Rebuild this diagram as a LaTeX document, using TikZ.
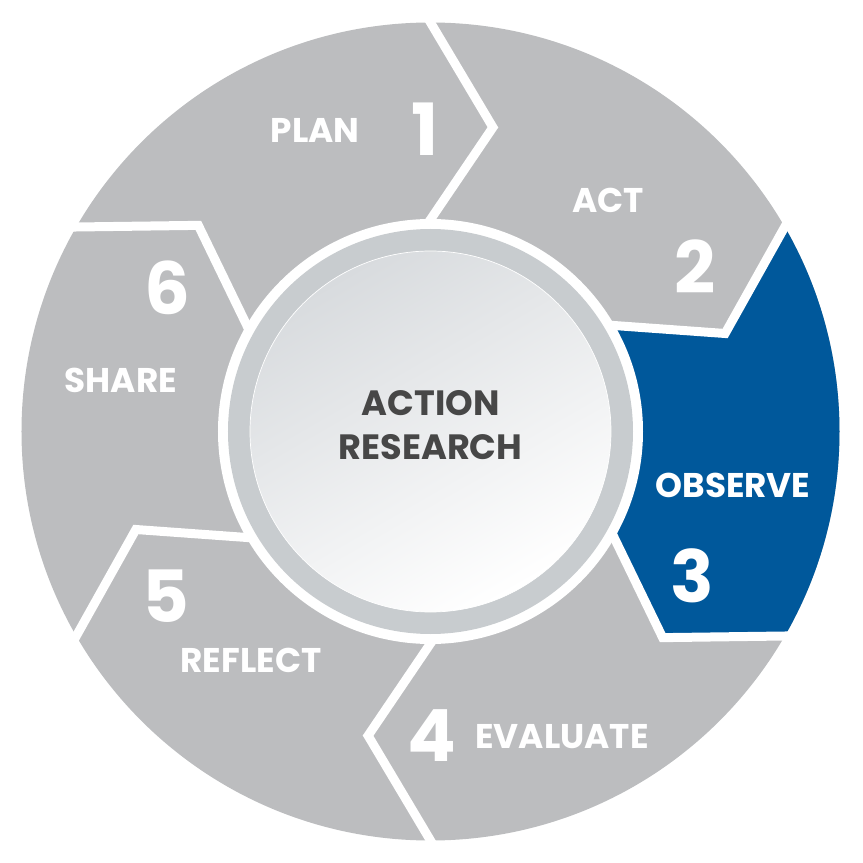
\documentclass[tikz,border=0pt]{standalone}
\usepackage{fontspec}
\setmainfont{Poppins}
\usetikzlibrary{calc}
\definecolor{segGray}{HTML}{BCBDBF}
\definecolor{obsBlue}{HTML}{00589B}
\definecolor{ringGray}{HTML}{C8CCCF}
\definecolor{coreGray}{HTML}{D8DBDE}
\definecolor{titleGray}{HTML}{474747}

\begin{document}
\begin{tikzpicture}[
    steplabel/.style={text=white, font=\bfseries\fontsize{19.5}{22}\selectfont},
    stepnum/.style={text=white, font=\bfseries\fontsize{41}{44}\selectfont},
    divider/.style={white, line width=0.18cm, line join=miter}
]
\useasboundingbox (-8.61,-8.63) rectangle (8.65,8.63);

% Outer disc
\fill[segGray] (0,0) circle (8.18);

% Boundary points
\foreach \a [count=\i] in {90,30,-30,-90,-150,150} {
    \coordinate (in\i) at (\a:4.24);
    \coordinate (tip\i) at (\a-11.6:6.21);
    \coordinate (out\i) at (\a:8.18);
}

% Highlighted step
\begin{scope}
    \clip (0,0) circle (8.18);
    \fill[obsBlue] (0,0) -- ($(tip2)!1.5!(in2)$) -- (tip2) -- ($(tip2)!1.3!(out2)$)
        -- (30:11) -- (0:11) -- (-30:11)
        -- ($(tip3)!1.3!(out3)$) -- (tip3) -- ($(tip3)!1.5!(in3)$) -- cycle;
\end{scope}

% Dividers
\foreach \i in {1,...,6} {
    \draw[divider] ($(tip\i)!1.5!(in\i)$) -- (tip\i) -- ($(tip\i)!1.3!(out\i)$);
}

% Centre
\fill[white] (0,0) circle (4.25);
\fill[ringGray] (0,0) circle (4.05);
\shade[top color=coreGray, bottom color=white, shading angle=30] (0,0) circle (3.61);
\draw[white, line width=0.4pt] (0,0) circle (3.61);
\node[text=titleGray, font=\bfseries\fontsize{20}{25}\selectfont, align=center] (title) at (0,0.13) {ACTION\\RESEARCH};

% Steps
\node[steplabel] (plan) at (-2.31,6.03) {PLAN};
\node[stepnum] (n1) at (-0.11,6.05) {1};
\node[steplabel] (act) at (3.55,4.63) {ACT};
\node[stepnum] (n2) at (5.29,3.29) {2};
\node[steplabel] (observe) at (6.05,-1.07) {OBSERVE};
\node[stepnum] (n3) at (5.23,-2.89) {3};
\node[stepnum] (n4) at (0.03,-6.09) {4};
\node[steplabel] (evaluate) at (2.63,-6.11) {EVALUATE};
\node[stepnum] (n5) at (-5.29,-3.29) {5};
\node[steplabel] (reflect) at (-3.59,-4.57) {REFLECT};
\node[stepnum] (n6) at (-5.27,2.87) {6};
\node[steplabel] (share) at (-6.19,1.03) {SHARE};

\end{tikzpicture}
\end{document}
